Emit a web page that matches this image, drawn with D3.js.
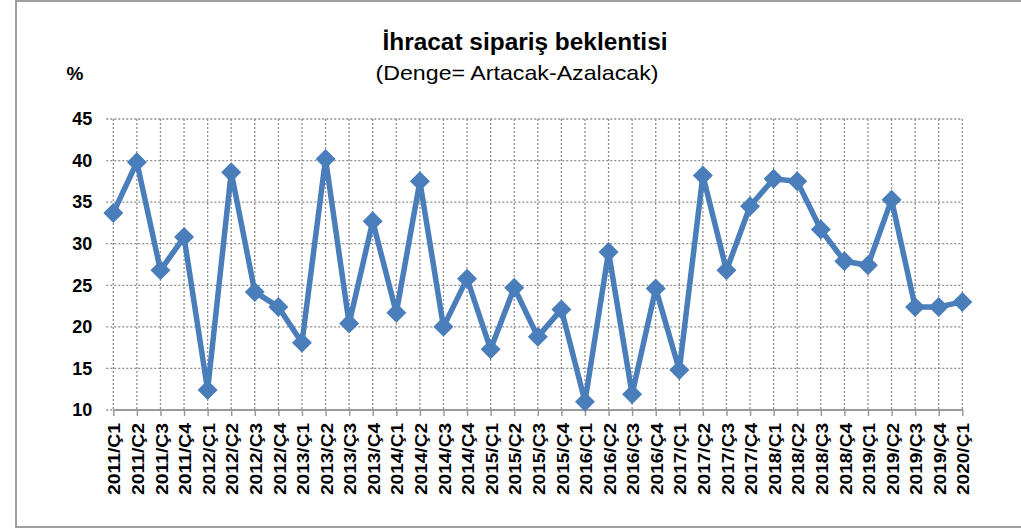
<!DOCTYPE html>
<html>
<head>
<meta charset="utf-8">
<script src="https://cdn.jsdelivr.net/npm/d3@7"></script>
<style>
  html, body { margin: 0; padding: 0; background: #fff; }
  svg { display: block; }
</style>
</head>
<body>
<div id="chart"></div>
<script>
const categories = [
  "2011/Ç1","2011/Ç2","2011/Ç3","2011/Ç4",
  "2012/Ç1","2012/Ç2","2012/Ç3","2012/Ç4",
  "2013/Ç1","2013/Ç2","2013/Ç3","2013/Ç4",
  "2014/Ç1","2014/Ç2","2014/Ç3","2014/Ç4",
  "2015/Ç1","2015/Ç2","2015/Ç3","2015/Ç4",
  "2016/Ç1","2016/Ç2","2016/Ç3","2016/Ç4",
  "2017/Ç1","2017/Ç2","2017/Ç3","2017/Ç4",
  "2018/Ç1","2018/Ç2","2018/Ç3","2018/Ç4",
  "2019/Ç1","2019/Ç2","2019/Ç3","2019/Ç4",
  "2020/Ç1"
];
const values = [
  33.7, 39.8, 26.8, 30.8,
  12.4, 38.6, 24.2, 22.4,
  18.1, 40.2, 20.4, 32.7,
  21.7, 37.5, 20.0, 25.8,
  17.3, 24.7, 18.8, 22.1,
  11.0, 29.0, 11.9, 24.6,
  14.8, 38.2, 26.8, 34.5,
  37.8, 37.5, 31.7, 27.9,
  27.4, 35.3, 22.4, 22.4,
  23.0
];
const yTicks = [10, 15, 20, 25, 30, 35, 40, 45];
const titleText = "İhracat sipariş beklentisi";
const subtitleText = "(Denge= Artacak-Azalacak)";
const unitText = "%";

(function () {
const W = 1021, H = 528;
const pLeft = 113.3, pRight = 962.3, pTop = 119, pBottom = 410;
const blue = "#4A7EBB";
const gridColor = "#8c8c8c";
const axisColor = "#9a9a9a";
const font = "'Liberation Sans', Arial, sans-serif";

const svg = d3.select("#chart").append("svg")
  .attr("width", W).attr("height", H);

svg.append("rect")
  .attr("x", 16).attr("y", 1).attr("width", W + 10).attr("height", 526)
  .attr("fill", "#fff").attr("stroke", "#a0a0a0").attr("stroke-width", 2);

const x = d3.scalePoint().domain(categories).range([pLeft, pRight]);
const y = d3.scaleLinear().domain([10, 45]).range([pBottom, pTop]);

const g = svg.append("g");
g.selectAll("line.hgrid").data(yTicks.filter(t => t > 10)).enter().append("line")
  .attr("class", "hgrid")
  .attr("x1", pLeft - 7).attr("x2", pRight)
  .attr("y1", d => y(d)).attr("y2", d => y(d))
  .attr("stroke", gridColor).attr("stroke-width", 1.3)
  .attr("stroke-dasharray", "2,2");

g.selectAll("line.vgrid").data(categories).enter().append("line")
  .attr("class", "vgrid")
  .attr("x1", d => x(d)).attr("x2", d => x(d))
  .attr("y1", pTop).attr("y2", pBottom)
  .attr("stroke", gridColor).attr("stroke-width", 1.3)
  .attr("stroke-dasharray", "2,2");

g.append("line")
  .attr("x1", pLeft - 7).attr("x2", pLeft)
  .attr("y1", y(10)).attr("y2", y(10))
  .attr("stroke", gridColor).attr("stroke-width", 1.3)
  .attr("stroke-dasharray", "2,2");

const xAxis = d3.axisBottom(x).tickSize(6).tickFormat("");
const xg = svg.append("g").attr("transform", `translate(0,${pBottom})`).call(xAxis);
xg.select(".domain").attr("stroke", axisColor).attr("stroke-width", 2).attr("d", `M${pLeft},0H${pRight + 1}`);
xg.selectAll(".tick line").attr("stroke", axisColor).attr("stroke-width", 1.5);

svg.append("g").selectAll("text").data(categories).enter().append("text")
  .attr("transform", d => `translate(${x(d) + 1},${pBottom + 13}) rotate(-90)`)
  .attr("text-anchor", "end")
  .attr("dy", "0.36em")
  .attr("font-family", font)
  .attr("font-weight", "bold")
  .attr("font-size", 17)
  .attr("textLength", 72)
  .attr("lengthAdjust", "spacingAndGlyphs")
  .attr("fill", "#000")
  .text(d => d);

const yAxis = d3.axisLeft(y).tickValues(yTicks).tickSize(0).tickPadding(14);
const yg = svg.append("g").attr("transform", `translate(${pLeft - 7},0)`).call(yAxis);
yg.select(".domain").remove();
yg.selectAll(".tick text")
  .attr("font-family", font).attr("font-weight", "bold")
  .attr("font-size", 18).attr("fill", "#000");

const line = d3.line().x((d, i) => x(categories[i])).y(d => y(d));
svg.append("path").datum(values)
  .attr("d", line)
  .attr("fill", "none").attr("stroke", blue).attr("stroke-width", 5.5)
  .attr("stroke-linejoin", "round");

const r = 10;
svg.append("g").selectAll("path").data(values).enter().append("path")
  .attr("transform", (d, i) => `translate(${x(categories[i])},${y(d)})`)
  .attr("d", `M0,${-r}L${r},0L0,${r}L${-r},0Z`)
  .attr("fill", blue);

svg.append("text")
  .attr("x", 525).attr("y", 50)
  .attr("text-anchor", "middle")
  .attr("font-family", font).attr("font-weight", "bold").attr("font-size", 23)
  .attr("textLength", 285).attr("lengthAdjust", "spacingAndGlyphs")
  .text(titleText);
svg.append("text")
  .attr("x", 517).attr("y", 80)
  .attr("text-anchor", "middle")
  .attr("font-family", font).attr("font-size", 21)
  .attr("textLength", 283).attr("lengthAdjust", "spacingAndGlyphs")
  .text(subtitleText);
svg.append("text")
  .attr("x", 75).attr("y", 80)
  .attr("text-anchor", "middle")
  .attr("font-family", font).attr("font-weight", "bold").attr("font-size", 19)
  .text(unitText);
})();
</script>
</body>
</html>
